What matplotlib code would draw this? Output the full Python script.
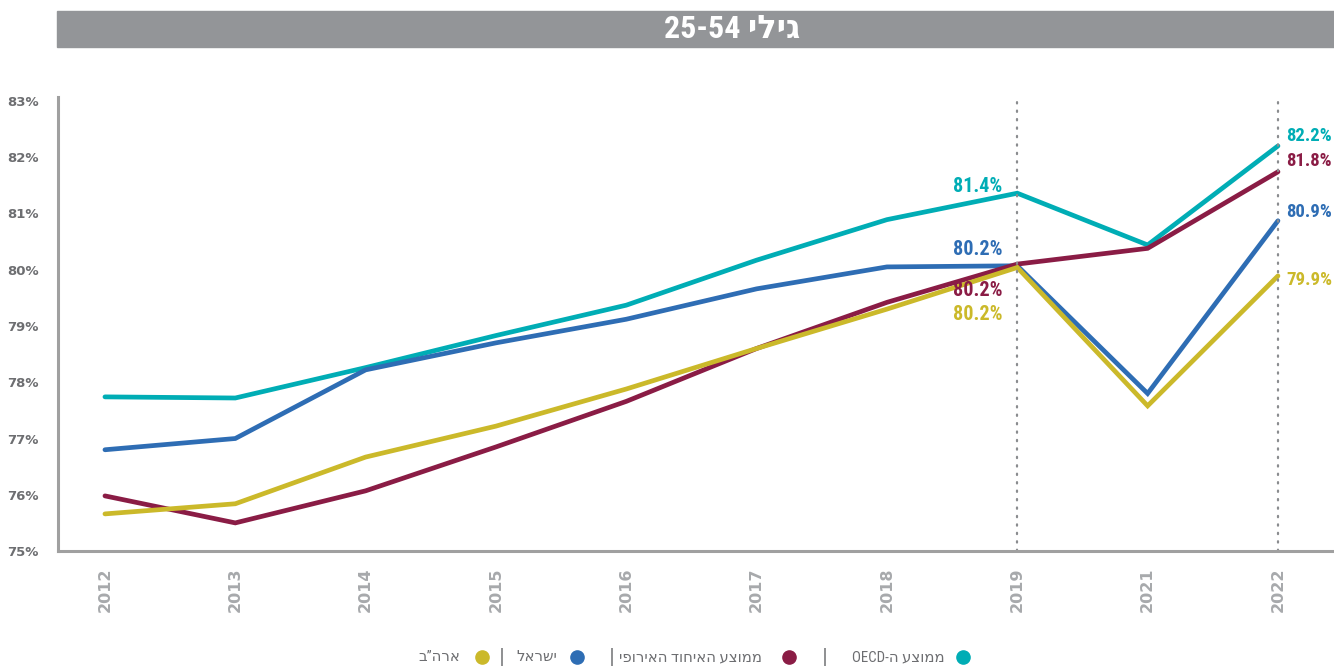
import numpy as np
import matplotlib.pyplot as plt
from matplotlib.lines import Line2D
from matplotlib.patches import Rectangle

# Data (employment rate, ages 25-54, %)
years = ['2012', '2013', '2014', '2015', '2016', '2017', '2018', '2019', '2021', '2022']
oecd = [77.74, 77.72, 78.26, 78.83, 79.37, 80.17, 80.89, 81.36, 80.44, 82.2]
israel = [76.8, 77.0, 78.22, 78.7, 79.12, 79.66, 80.05, 80.07, 77.8, 80.87]
eu = [75.98, 75.5, 76.07, 76.85, 77.66, 78.6, 79.42, 80.1, 80.38, 81.74]
usa = [75.66, 75.84, 76.67, 77.22, 77.88, 78.6, 79.3, 80.04, 77.58, 79.89]
yticks = [75, 76, 77, 78, 79, 80, 81, 82, 83]

# labels shown at 2019 and 2022
lab2019 = ['81.4%', '80.2%', '80.2%', '80.2%']
lab2022 = ['82.2%', '80.9%', '81.8%', '79.9%']

c_oecd = '#00adb5'
c_isr = '#2e6db4'
c_eu = '#8a1c45'
c_usa = '#cbb92a'
grey = '#a7a9ac'
dark = '#6d6e71'

cond = ['Roboto Condensed', 'Open Sans Condensed', 'DejaVu Sans']
plt.rcParams['font.family'] = ['DejaVu Sans']

fig = plt.figure(figsize=(13.34, 6.68), dpi=100)
ax = fig.add_axes([0.0435, 0.1751, 0.9565, 0.6797])

x = np.arange(len(years))
series = [(oecd, c_oecd), (israel, c_isr), (eu, c_eu), (usa, c_usa)]
for vals, col in series:
    ax.plot(x, vals, color=col, lw=3.4, solid_capstyle='round', solid_joinstyle='miter')

# dotted guides at 2019 and 2022
for xi in (7, 9):
    ax.axvline(xi, color='#8a8c8f', lw=1.6, ls=(0, (0.6, 3.2)), dash_capstyle='round')

ax.set_xlim(-0.36, 9.43)
ax.set_ylim(75, 83.07)
ax.set_xticks(x)
ax.set_xticklabels(years, rotation=90, fontsize=11.5, fontweight='bold', color=grey)
ax.set_yticks(yticks)
ax.set_yticklabels([f'{v}%' for v in yticks], fontsize=9.5, fontweight='bold', color=dark)
ax.tick_params(axis='x', length=0, pad=12)
ax.tick_params(axis='y', length=0, pad=14)
for s in ('top', 'right'):
    ax.spines[s].set_visible(False)
for s in ('left', 'bottom'):
    ax.spines[s].set_color('#a0a0a0')
    ax.spines[s].set_linewidth(2.2)

# value labels
lbl = dict(fontweight='bold', family=cond, textcoords='offset points', va='center')
offs19 = [(-11, 5), (-11, 12), (-11, -19), (-11, -34)]
for (vals, col), t, off in zip(series, lab2019, offs19):
    ax.annotate(t, (7, vals[7]), xytext=off, color=col, ha='right', fontsize=14.5, **lbl)
offs22 = [(6, 7), (6, 6), (6, 8), (6, -3)]
for (vals, col), t, off in zip(series, lab2022, offs22):
    ax.annotate(t, (9, vals[9]), xytext=off, color=col, ha='left', fontsize=13.5, **lbl)

# title bar
fig.add_artist(Rectangle((0.0427, 0.9296), 0.9573, 0.0539, transform=fig.transFigure,
                         color='#939598', zorder=0))
fig.text(0.549, 0.956, '25-54 יליג', color='white', fontsize=23, fontweight='bold',
         family=cond, ha='center', va='center')

# legend (Hebrew written in visual order)
leg = [('OECD-ה עצוממ', c_oecd, 0.7219, 0.7084),
       ('יפוריאה דוחיאה עצוממ', c_eu, 0.5915, 0.5712),
       ('לארשי', c_isr, 0.4325, 0.4175),
       ('ב”הרא', c_usa, 0.3613, 0.3448)]
ly = 0.0165
for txt, col, dx, tx in leg:
    fig.add_artist(Line2D([dx], [ly], transform=fig.transFigure, marker='o', ms=9.5,
                          color=col, lw=0))
    fig.text(tx, ly, txt, color=dark, fontsize=10.7, family=cond,
             ha='right', va='center')
for px in (0.6184, 0.4588, 0.3763):
    fig.text(px, ly, '|', color=dark, fontsize=13, ha='center', va='center')

fig.savefig('out.png', dpi=100)
